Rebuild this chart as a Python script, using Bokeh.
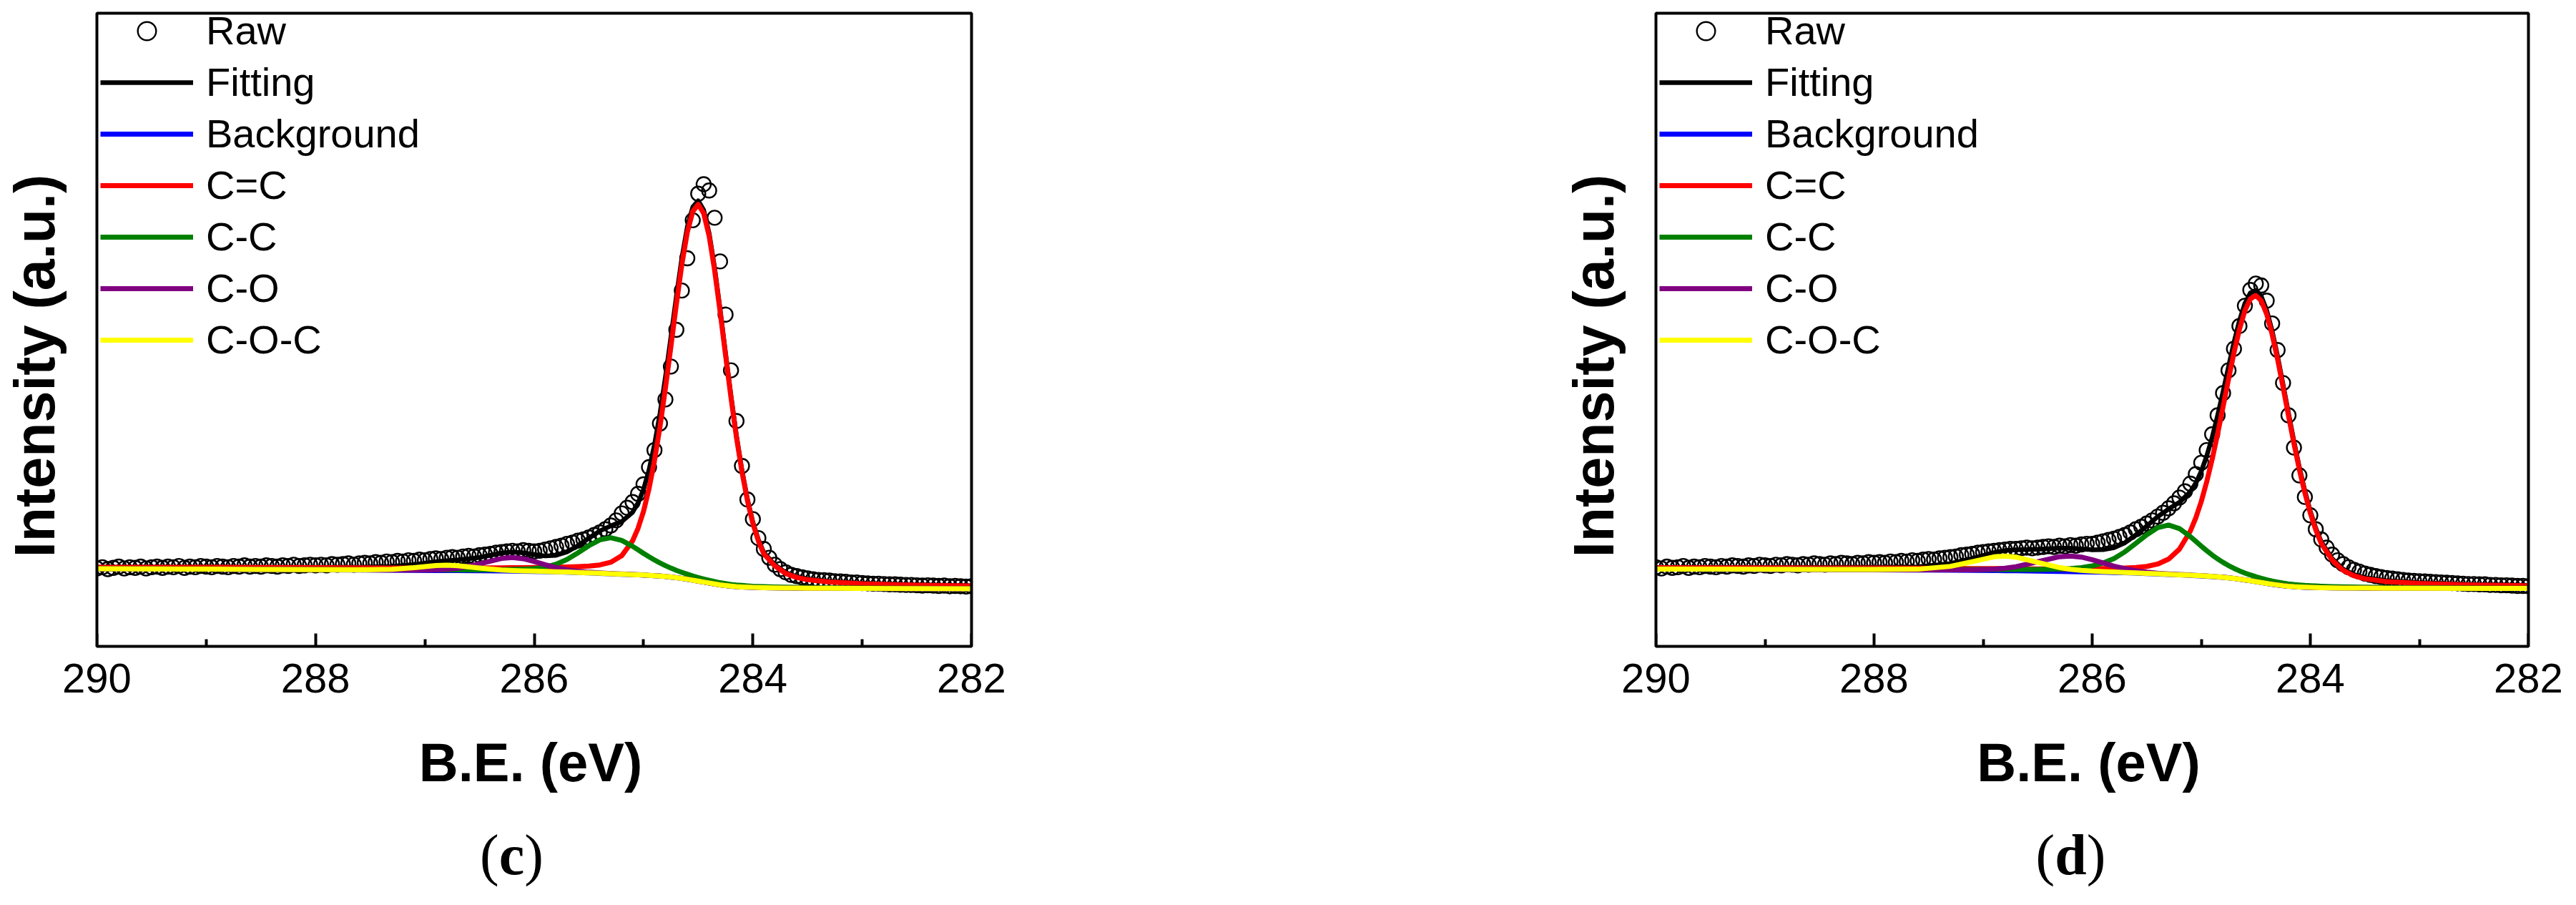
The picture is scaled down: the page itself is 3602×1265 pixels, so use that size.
from bokeh.plotting import figure
from bokeh.models import Range1d, FixedTicker, Legend, LegendItem, Label, BoxAnnotation
from bokeh.layouts import row
from bokeh.embed import file_html
from bokeh.resources import INLINE
import math

# ---------------- data ----------------
raw_be = [290.0, 289.95, 289.9, 289.85, 289.8, 289.75, 289.7, 289.65, 289.6, 289.55,
          289.5, 289.45, 289.4, 289.35, 289.3, 289.25, 289.2, 289.15, 289.1, 289.05,
          289.0, 288.95, 288.9, 288.85, 288.8, 288.75, 288.7, 288.65, 288.6, 288.55,
          288.5, 288.45, 288.4, 288.35, 288.3, 288.25, 288.2, 288.15, 288.1, 288.05,
          288.0, 287.95, 287.9, 287.85, 287.8, 287.75, 287.7, 287.65, 287.6, 287.55,
          287.5, 287.45, 287.4, 287.35, 287.3, 287.25, 287.2, 287.15, 287.1, 287.05,
          287.0, 286.95, 286.9, 286.85, 286.8, 286.75, 286.7, 286.65, 286.6, 286.55,
          286.5, 286.45, 286.4, 286.35, 286.3, 286.25, 286.2, 286.15, 286.1, 286.05,
          286.0, 285.95, 285.9, 285.85, 285.8, 285.75, 285.7, 285.65, 285.6, 285.55,
          285.5, 285.45, 285.4, 285.35, 285.3, 285.25, 285.2, 285.15, 285.1, 285.05,
          285.0, 284.95, 284.9, 284.85, 284.8, 284.75, 284.7, 284.65, 284.6, 284.55,
          284.5, 284.45, 284.4, 284.35, 284.3, 284.25, 284.2, 284.15, 284.1, 284.05,
          284.0, 283.95, 283.9, 283.85, 283.8, 283.75, 283.7, 283.65, 283.6, 283.55,
          283.5, 283.45, 283.4, 283.35, 283.3, 283.25, 283.2, 283.15, 283.1, 283.05,
          283.0, 282.95, 282.9, 282.85, 282.8, 282.75, 282.7, 282.65, 282.6, 282.55,
          282.5, 282.45, 282.4, 282.35, 282.3, 282.25, 282.2, 282.15, 282.1, 282.05,
          282.0]

raw_c = [12.3, 12.5, 12.2, 12.4, 12.6, 12.3, 12.5, 12.4, 12.6, 12.3,
         12.5, 12.6, 12.4, 12.6, 12.5, 12.7, 12.4, 12.6, 12.5, 12.7,
         12.6, 12.5, 12.7, 12.6, 12.5, 12.7, 12.6, 12.8, 12.6, 12.7,
         12.6, 12.8, 12.7, 12.6, 12.8, 12.7, 12.9, 12.7, 12.8, 12.9,
         12.8, 12.9, 12.8, 13.0, 12.9, 13.0, 13.1, 12.9, 13.1, 13.2,
         13.1, 13.3, 13.2, 13.4, 13.3, 13.5, 13.4, 13.6, 13.5, 13.7,
         13.6, 13.8, 13.9, 13.8, 14.0, 14.1, 14.0, 14.2, 14.3, 14.2,
         14.4, 14.5, 14.6, 14.8, 14.9, 15.0, 15.1, 15.0, 15.2, 15.1,
         15.0, 15.1, 15.3, 15.5, 15.7, 15.9, 16.2, 16.4, 16.7, 16.9,
         17.2, 17.6, 18.0, 18.5, 19.1, 19.9, 21.0, 21.9, 22.8, 24.1,
         25.6, 28.3, 31.0, 35.2, 39.0, 44.2, 50.0, 56.2, 61.3, 67.3,
         71.5, 73.0, 72.0, 67.7, 60.8, 52.4, 43.6, 35.6, 28.5, 23.2,
         20.1, 17.1, 15.4, 14.0, 12.9, 12.2, 11.7, 11.3, 11.1, 10.9,
         10.75, 10.6, 10.5, 10.45, 10.4, 10.3, 10.25, 10.2, 10.1, 10.1,
         10.0, 9.95, 9.9, 9.9, 9.85, 9.8, 9.8, 9.75, 9.7, 9.7,
         9.65, 9.6, 9.65, 9.6, 9.55, 9.6, 9.5, 9.55, 9.5, 9.45,
         9.5]

raw_d = [12.5, 12.3, 12.6, 12.4, 12.5, 12.7, 12.4, 12.6, 12.5, 12.7,
         12.6, 12.5, 12.7, 12.6, 12.8, 12.7, 12.6, 12.8, 12.7, 12.9,
         12.8, 12.7, 12.9, 12.8, 13.0, 12.9, 12.8, 13.0, 12.9, 13.1,
         13.0, 12.9, 13.1, 13.0, 13.2, 13.1, 13.0, 13.2, 13.1, 13.3,
         13.2, 13.3, 13.2, 13.4, 13.3, 13.5, 13.4, 13.6, 13.5, 13.7,
         13.8, 13.7, 13.9, 14.0, 14.1, 14.2, 14.4, 14.5, 14.6, 14.8,
         14.9, 15.0, 15.1, 15.2, 15.3, 15.4, 15.4, 15.5, 15.6, 15.5,
         15.6, 15.7, 15.8, 15.7, 15.9, 15.8, 16.0, 15.9, 16.1, 16.2,
         16.2, 16.4, 16.6, 16.8, 17.0, 17.3, 17.6, 18.0, 18.5, 18.9,
         19.4, 19.9, 20.5, 21.1, 21.8, 22.6, 23.5, 24.5, 25.7, 27.2,
         29.0, 31.0, 33.5, 36.5, 40.0, 43.6, 47.0, 50.6, 53.8, 56.3,
         57.3, 57.0, 54.6, 51.0, 46.8, 41.6, 36.5, 31.4, 27.0, 23.6,
         20.7, 18.5, 16.9, 15.6, 14.5, 13.6, 13.0, 12.5, 12.1, 11.8,
         11.5, 11.3, 11.1, 10.95, 10.8, 10.7, 10.6, 10.5, 10.4, 10.35,
         10.3, 10.25, 10.2, 10.15, 10.1, 10.05, 10.0, 9.95, 9.9, 9.85,
         9.85, 9.8, 9.8, 9.7, 9.7, 9.65, 9.65, 9.6, 9.55, 9.55,
         9.5]

fit_be = [290.0, 289.5, 289.0, 288.5, 288.0, 287.6, 287.3, 287.1, 286.9, 286.8,
          286.7, 286.5, 286.3, 286.2, 286.1, 286.0, 285.9, 285.8, 285.7, 285.6,
          285.5, 285.4, 285.3, 285.2, 285.1, 285.05, 285.0, 284.95, 284.9, 284.85,
          284.8, 284.75, 284.7, 284.65, 284.6, 284.55, 284.5, 284.45, 284.4, 284.35,
          284.3, 284.25, 284.2, 284.15, 284.1, 284.05, 284.0, 283.95, 283.9, 283.8,
          283.7, 283.6, 283.5, 283.3, 283.0, 282.5, 282.0]

# panel (c)
fit_c = [12.52, 12.52, 12.53, 12.49, 12.48, 12.49, 12.63, 12.92, 13.36, 13.52,
         13.65, 14.04, 14.74, 14.90, 14.78, 14.51, 14.28, 14.39, 14.93, 15.90,
         17.09, 18.23, 19.03, 19.70, 21.19, 22.66, 24.82, 27.87, 31.86, 36.75,
         42.52, 48.78, 55.23, 61.28, 66.22, 69.38, 70.38, 68.90, 65.24, 59.80,
         53.26, 46.32, 39.54, 33.26, 27.83, 23.27, 19.61, 16.86, 14.81, 12.89,
         11.66, 11.02, 10.65, 10.27, 9.97, 9.72, 9.59]
bg_c = [12.25, 12.22, 12.20, 12.15, 12.10, 12.06, 12.03, 12.01, 11.99, 11.98,
        11.97, 11.95, 11.91, 11.89, 11.87, 11.85, 11.82, 11.78, 11.73, 11.67,
        11.60, 11.53, 11.46, 11.39, 11.32, 11.29, 11.25, 11.20, 11.15, 11.10,
        11.03, 10.94, 10.84, 10.73, 10.60, 10.45, 10.30, 10.15, 10.00, 9.85,
        9.71, 9.60, 9.50, 9.43, 9.38, 9.34, 9.30, 9.28, 9.26, 9.23,
        9.21, 9.19, 9.18, 9.17, 9.15, 9.12, 9.10]
c_eq_c_c = [12.50, 12.49, 12.49, 12.45, 12.42, 12.39, 12.38, 12.37, 12.37, 12.37,
            12.38, 12.39, 12.41, 12.42, 12.44, 12.47, 12.49, 12.52, 12.55, 12.60,
            12.68, 12.86, 13.28, 14.31, 16.68, 18.67, 21.35, 24.90, 29.35, 34.66,
            40.78, 47.34, 54.04, 60.29, 65.40, 68.70, 69.80, 68.40, 64.80, 59.41,
            52.91, 46.00, 39.25, 32.99, 27.58, 23.04, 19.40, 16.66, 14.62, 12.73,
            11.51, 10.89, 10.53, 10.17, 9.90, 9.67, 9.55]
c_c_c = [12.27, 12.24, 12.23, 12.18, 12.14, 12.11, 12.10, 12.09, 12.09, 12.09,
         12.09, 12.10, 12.11, 12.14, 12.19, 12.30, 12.52, 12.98, 13.73, 14.77,
         15.90, 16.83, 17.16, 16.74, 15.80, 15.25, 14.69, 14.15, 13.64, 13.17,
         12.75, 12.36, 12.01, 11.70, 11.40, 11.12, 10.87, 10.64, 10.43, 10.23,
         10.05, 9.91, 9.78, 9.69, 9.62, 9.56, 9.50, 9.47, 9.44, 9.39,
         9.35, 9.31, 9.29, 9.26, 9.22, 9.17, 9.13]
c_o_c = [12.25, 12.22, 12.21, 12.16, 12.11, 12.08, 12.06, 12.06, 12.10, 12.17,
         12.34, 13.03, 13.89, 14.04, 13.85, 13.41, 12.90, 12.44, 12.10, 11.86,
         11.71, 11.60, 11.51, 11.43, 11.35, 11.32, 11.27, 11.22, 11.17, 11.12,
         11.05, 10.96, 10.86, 10.75, 10.62, 10.47, 10.31, 10.16, 10.01, 9.86,
         9.72, 9.61, 9.51, 9.44, 9.39, 9.35, 9.31, 9.29, 9.27, 9.24,
         9.22, 9.20, 9.19, 9.17, 9.15, 9.12, 9.10]
c_o_c_c = [12.25, 12.22, 12.21, 12.16, 12.11, 12.09, 12.18, 12.44, 12.77, 12.83,
           12.75, 12.38, 12.06, 11.97, 11.91, 11.88, 11.84, 11.79, 11.74, 11.68,
           11.61, 11.54, 11.47, 11.40, 11.33, 11.30, 11.26, 11.21, 11.16, 11.11,
           11.04, 10.95, 10.85, 10.74, 10.61, 10.46, 10.31, 10.16, 10.01, 9.86,
           9.72, 9.61, 9.51, 9.44, 9.39, 9.35, 9.31, 9.29, 9.27, 9.24,
           9.22, 9.20, 9.19, 9.18, 9.16, 9.13, 9.11]

# panel (d)
fit_d = [12.46, 12.45, 12.46, 12.46, 12.48, 12.57, 13.08, 13.89, 14.82, 15.13,
         15.26, 15.33, 15.52, 15.52, 15.41, 15.26, 15.27, 15.58, 16.36, 17.60,
         19.01, 20.48, 21.69, 22.76, 24.42, 25.78, 27.65, 30.08, 33.01, 36.46,
         40.24, 44.17, 48.02, 51.43, 54.15, 55.82, 56.22, 55.30, 53.08, 49.81,
         45.83, 41.38, 36.82, 32.38, 28.24, 24.56, 21.34, 18.68, 16.52, 13.85,
         12.21, 11.33, 10.85, 10.36, 10.05, 9.77, 9.63]
bg_d = [12.20, 12.18, 12.16, 12.13, 12.10, 12.07, 12.04, 12.01, 11.98, 11.96,
        11.94, 11.90, 11.85, 11.82, 11.79, 11.76, 11.72, 11.68, 11.63, 11.57,
        11.50, 11.43, 11.36, 11.29, 11.21, 11.17, 11.13, 11.08, 11.03, 10.97,
        10.90, 10.82, 10.72, 10.61, 10.49, 10.36, 10.22, 10.08, 9.94, 9.81,
        9.69, 9.58, 9.49, 9.42, 9.37, 9.33, 9.30, 9.28, 9.26, 9.23,
        9.21, 9.20, 9.19, 9.18, 9.17, 9.15, 9.13]
c_eq_c_d = [12.42, 12.41, 12.40, 12.38, 12.36, 12.34, 12.32, 12.30, 12.28, 12.27,
            12.26, 12.24, 12.23, 12.23, 12.24, 12.26, 12.28, 12.32, 12.38, 12.47,
            12.63, 13.00, 13.78, 15.36, 18.22, 20.30, 22.88, 26.00, 29.56, 33.57,
            37.84, 42.19, 46.38, 50.07, 53.02, 54.88, 55.42, 54.60, 52.47, 49.27,
            45.35, 40.95, 36.43, 32.02, 27.90, 24.25, 21.05, 18.41, 16.27, 13.63,
            12.01, 11.15, 10.69, 10.23, 9.95, 9.70, 9.58]
c_c_d = [12.23, 12.21, 12.20, 12.18, 12.16, 12.15, 12.15, 12.14, 12.14, 12.14,
         12.14, 12.16, 12.23, 12.30, 12.44, 12.71, 13.17, 13.88, 14.93, 16.28,
         17.63, 18.75, 19.16, 18.61, 17.34, 16.59, 15.84, 15.11, 14.43, 13.81,
         13.26, 12.76, 12.32, 11.93, 11.59, 11.28, 11.00, 10.76, 10.53, 10.33,
         10.16, 10.00, 9.87, 9.77, 9.70, 9.63, 9.58, 9.54, 9.50, 9.44,
         9.40, 9.37, 9.34, 9.30, 9.26, 9.21, 9.18]
c_o_d = [12.21, 12.19, 12.17, 12.14, 12.12, 12.10, 12.09, 12.10, 12.20, 12.34,
         12.58, 13.36, 14.16, 14.27, 14.10, 13.69, 13.18, 12.68, 12.27, 11.95,
         11.72, 11.56, 11.45, 11.35, 11.26, 11.21, 11.17, 11.12, 11.06, 11.00,
         10.93, 10.85, 10.75, 10.63, 10.51, 10.38, 10.24, 10.10, 9.96, 9.83,
         9.71, 9.60, 9.51, 9.44, 9.39, 9.35, 9.32, 9.30, 9.28, 9.25,
         9.23, 9.21, 9.20, 9.19, 9.18, 9.16, 9.14]
c_o_c_d = [12.21, 12.19, 12.17, 12.15, 12.14, 12.19, 12.64, 13.38, 14.14, 14.26,
           14.10, 13.27, 12.45, 12.18, 12.00, 11.88, 11.80, 11.74, 11.67, 11.61,
           11.53, 11.46, 11.38, 11.31, 11.23, 11.19, 11.15, 11.10, 11.05, 10.99,
           10.91, 10.83, 10.73, 10.62, 10.50, 10.37, 10.23, 10.09, 9.95, 9.82,
           9.70, 9.59, 9.50, 9.43, 9.38, 9.34, 9.31, 9.29, 9.27, 9.24,
           9.22, 9.21, 9.20, 9.19, 9.18, 9.16, 9.14]

major_ticks = [290, 288, 286, 284, 282]
minor_ticks = [289, 287, 285, 283]
legend_labels = ["Raw", "Fitting", "Background", "C=C", "C-C", "C-O", "C-O-C"]
line_colors = ["#000000", "#0000FF", "#FF0000", "#008000", "#800080", "#FFFF00"]
line_widths = [6.5, 7, 7, 7, 7, 7]
x_title = "B.E. (eV)"
y_title = "Intensity (a.u.)"

# ---------------- layout (pixels within each canvas) ----------------
FIG_W, FIG_H = 1793, 1249
BOX_TOP, BOX_BOTTOM = 18, 903
X_HI, X_LO = 290.0, 282.0
Y_LO, Y_HI = 0.0, 100.0
SANS = "Liberation Sans"
SERIF = "Liberation Serif"


def make_panel(raw_y, curves, letter, box_left, box_right):
    ev_px = (X_HI - X_LO) / (box_right - box_left)
    u_px = (Y_HI - Y_LO) / (BOX_BOTTOM - BOX_TOP)
    x_start = X_HI + box_left * ev_px
    x_end = X_LO - (FIG_W - box_right) * ev_px
    y_top = Y_HI + BOX_TOP * u_px
    y_bot = Y_LO - (FIG_H - BOX_BOTTOM) * u_px

    def X(px):
        return x_start - px * ev_px

    def Y(py):
        return y_top - py * u_px

    p = figure(width=FIG_W, height=FIG_H, x_range=Range1d(x_start, x_end),
               y_range=Range1d(y_bot, y_top), output_backend="svg",
               toolbar_location=None, min_border_left=0, min_border_right=0,
               min_border_top=0, min_border_bottom=0)
    p.background_fill_color = "white"
    p.border_fill_color = "white"
    p.outline_line_color = None
    p.grid.visible = False
    p.yaxis.visible = False

    ax = p.xaxis[0]
    ax.fixed_location = Y_LO
    ax.ticker = FixedTicker(ticks=major_ticks, minor_ticks=minor_ticks)
    ax.axis_line_color = None
    ax.major_tick_in = 18
    ax.major_tick_out = 0
    ax.minor_tick_in = 10
    ax.minor_tick_out = 0
    ax.major_tick_line_width = 4
    ax.minor_tick_line_width = 4
    ax.major_tick_line_color = "black"
    ax.minor_tick_line_color = "black"
    ax.major_label_text_font = SANS
    ax.major_label_text_font_size = "58px"
    ax.major_label_text_color = "black"
    ax.major_label_standoff = 24

    renderers = []
    r = p.scatter(raw_be, raw_y, marker="circle", size=20, fill_alpha=0,
                  line_color="black", line_width=2.4)
    renderers.append(r)
    for ys, col, lw in zip(curves, line_colors, line_widths):
        r = p.line(fit_be, ys, line_color=col, line_width=lw, line_join="round")
        renderers.append(r)

    # white masks so that markers do not spill outside the plot box
    p.add_layout(BoxAnnotation(left=x_start, right=X_HI, bottom=Y_LO, top=Y_HI,
                               fill_color="white", fill_alpha=1.0, line_alpha=0))
    p.add_layout(BoxAnnotation(left=X_LO, right=x_end, bottom=Y_LO, top=Y_HI,
                               fill_color="white", fill_alpha=1.0, line_alpha=0))
    # plot box
    p.add_layout(BoxAnnotation(left=X_LO, right=X_HI, bottom=Y_LO, top=Y_HI,
                               fill_color=None, fill_alpha=0,
                               line_color="black", line_alpha=1.0, line_width=4))

    # legend: 7 rows of 64 px, 6 gaps of 7 px, padding 4
    leg_h = 7 * 64 + 6 * 7 + 8
    leg_top = BOX_TOP - 5
    items = [LegendItem(label=lab, renderers=[rr]) for lab, rr in zip(legend_labels, renderers)]
    leg = Legend(items=items, location=(box_left + 1, FIG_H - leg_top - leg_h),
                 label_text_font=SANS, label_text_font_size="56px",
                 label_text_color="black", glyph_width=130, glyph_height=64,
                 label_height=64, label_standoff=18, spacing=7, padding=4,
                 margin=0, border_line_alpha=0, background_fill_alpha=0)
    p.add_layout(leg)

    # y title (rotated)
    p.add_layout(Label(x=X(box_left - 87), y=Y(511), text=y_title,
                       angle=math.pi / 2, text_font=SANS, text_font_style="bold",
                       text_font_size="79px", text_align="center",
                       text_baseline="alphabetic", text_color="black"))
    # x title
    p.add_layout(Label(x=X((box_left + box_right) / 2 - 5), y=Y(1065), text=x_title,
                       text_font=SANS, text_font_style="bold",
                       text_font_size="76px", text_align="center",
                       text_baseline="alphabetic", text_color="black"))
    # caption "(c)" / "(d)" with bold letter
    fs = 80
    paren_w = 0.333 * fs
    letter_w = (0.444 if letter == "c" else 0.556) * fs
    total = 2 * paren_w + letter_w
    left0 = box_left + 580 - total / 2
    yb = Y(1194)
    for txt, x0, style in (("(", left0, "normal"),
                           (letter, left0 + paren_w, "bold"),
                           (")", left0 + paren_w + letter_w, "normal")):
        p.add_layout(Label(x=X(x0), y=yb, text=txt, text_font=SERIF,
                           text_font_style=style, text_font_size=f"{fs}px",
                           text_align="left", text_baseline="alphabetic",
                           text_color="black"))
    return p


# canvas-local box positions (panel c starts at 0, panel d at FIG_W)
p_c = make_panel(raw_c, [fit_c, bg_c, c_eq_c_c, c_c_c, c_o_c, c_o_c_c], "c",
                 135, 1358)
p_d = make_panel(raw_d, [fit_d, bg_d, c_eq_c_d, c_c_d, c_o_d, c_o_c_d], "d",
                 2315 - FIG_W, 3535 - FIG_W)

layout = row(p_c, p_d)
open("out.html", "w").write(file_html(layout, INLINE))
